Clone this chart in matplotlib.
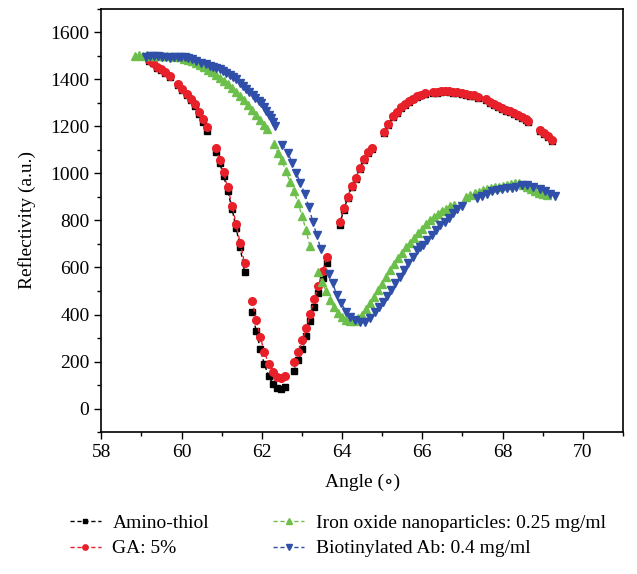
import matplotlib
matplotlib.use("Agg")
import matplotlib.pyplot as plt
import numpy as np

nan = np.nan

# Amino-thiol (black squares)
amino_angle = [
    59.20, 59.28, 59.40, 59.50, 59.60, 59.71, nan,
    59.92, 60.01, 60.13, 60.23, 60.33, 60.43, 60.53, 60.64, nan,
    60.85, 60.95, 61.05, 61.15, 61.26, 61.36, 61.46, 61.57, nan,
    61.76, 61.86, 61.96, 62.06, 62.17, 62.28, 62.39, 62.49, 62.59, nan,
    62.79, 62.91, 63.01, 63.11, 63.21, 63.30, 63.41, 63.52, 63.62, nan,
    63.94, 64.04, 64.14, 64.24, 64.34, 64.44, 64.54, 64.64, 64.75, nan,
    65.05, 65.15, 65.26, 65.36, 65.46, 65.56, 65.66, 65.76, 65.86, 65.96, 66.06, nan,
    66.27, 66.37, 66.47, 66.57, 66.67, 66.77, 66.87, 66.98, 67.08, 67.18, 67.28, 67.38, nan,
    67.59, 67.69, 67.79, 67.89, 67.99, 68.08, 68.18, 68.28, 68.38, 68.48, 68.58, 68.63, nan,
    68.92, 69.02, 69.12, 69.23,
]
amino_refl = [
    1478, 1468, 1448, 1438, 1425, 1410, nan,
    1376, 1354, 1332, 1310, 1285, 1252, 1220, 1182, nan,
    1092, 1043, 990, 925, 848, 768, 686, 582, nan,
    411, 329, 255, 191, 138, 105, 87, 82, 94, nan,
    159, 205, 255, 308, 371, 432, 492, 555, 617, nan,
    780, 845, 895, 942, 975, 1018, 1056, 1085, 1105, nan,
    1170, 1205, 1238, 1257, 1276, 1292, 1303, 1314, 1324, 1331, 1336, nan,
    1341, 1343, 1345, 1348, 1345, 1343, 1341, 1337, 1333, 1330, 1327, 1320, nan,
    1310, 1300, 1292, 1283, 1275, 1266, 1260, 1253, 1245, 1234, 1225, 1217, nan,
    1182, 1168, 1153, 1138,
]

# GA: 5% (red circles)
ga_angle = amino_angle
ga_refl = [
    1480, 1471, 1451, 1442, 1429, 1415, nan,
    1381, 1360, 1338, 1318, 1293, 1261, 1230, 1195, nan,
    1106, 1057, 1004, 940, 863, 784, 704, 620, nan,
    458, 378, 306, 243, 191, 155, 134, 131, 140, nan,
    199, 243, 290, 344, 404, 464, 522, 586, 643, nan,
    795, 852, 901, 947, 980, 1023, 1061, 1089, 1109, nan,
    1176, 1210, 1243, 1261, 1280, 1296, 1307, 1318, 1328, 1335, 1340, nan,
    1345, 1347, 1349, 1352, 1349, 1347, 1345, 1341, 1337, 1334, 1331, 1324, nan,
    1314, 1304, 1296, 1287, 1279, 1270, 1264, 1257, 1249, 1238, 1229, 1221, nan,
    1186, 1172, 1157, 1143,
]

# Iron oxide nanoparticles (green up triangles)
iron_angle = [
    58.85, 58.95, 59.05, 59.15, 59.25, 59.35, 59.45, 59.55, 59.65, 59.75, 59.85,
    59.95, 60.05, 60.15, 60.25, 60.35, 60.45, 60.55, 60.65, 60.75, 60.85, 60.95,
    61.05, 61.15, 61.25, 61.35, 61.45, 61.55, 61.65, 61.75, 61.85, 61.95, 62.05, 62.12, nan,
    62.30, 62.40, 62.50, 62.60, 62.70, 62.80, 62.90, 63.00, 63.10, 63.20, nan,
    63.40, 63.50, 63.60, 63.70, 63.80, 63.90, 64.00, 64.10, 64.20, 64.30, 64.40,
    64.50, 64.60, 64.70, 64.80, 64.90, 65.00, 65.10, 65.20, 65.30, 65.40, 65.50,
    65.60, 65.70, 65.80, 65.90, 66.00, 66.10, 66.20, 66.30, 66.40, 66.50, 66.60,
    66.70, 66.80, nan,
    67.10, 67.20, 67.30, 67.40, 67.50, 67.60, 67.70, 67.80, 67.90, 68.00, 68.10,
    68.20, 68.30, 68.40, 68.50, 68.60, 68.70, 68.80, 68.90, 69.00, 69.10,
]
iron_refl = [
    1498, 1502, 1500, 1503, 1500, 1498, 1500, 1499, 1497, 1498, 1496,
    1494, 1488, 1482, 1476, 1470, 1460, 1450, 1440, 1430, 1418, 1405,
    1392, 1378, 1362, 1346, 1328, 1310, 1290, 1270, 1250, 1228, 1205, 1190, nan,
    1125, 1085, 1055, 1010, 965, 925, 875, 820, 760, 690, nan,
    580, 540, 500, 460, 430, 405, 390, 378, 372, 372, 385,
    400, 425, 450, 475, 505, 530, 560, 590, 615, 640, 660,
    685, 705, 725, 745, 765, 785, 800, 815, 828, 840, 850,
    860, 866, nan,
    900, 909, 915, 921, 928, 935, 939, 942, 944, 947, 950,
    953, 957, 960, 952, 942, 934, 927, 918, 912, 907,
]

# Biotinylated Ab (blue down triangles)
ab_angle = [
    59.12, 59.22, 59.32, 59.41, 59.51, 59.61, 59.70, 59.80, 59.90, 59.99, 60.08,
    60.15, 60.25, 60.36, 60.48, 60.61, 60.70, 60.78, 60.87, 60.95, 61.03, 61.11,
    61.20, 61.28, 61.36, 61.45, 61.53, 61.61, 61.69, 61.77, 61.84, 61.92, 61.99,
    62.05, 62.11, 62.18, 62.24, 62.29, 62.34, nan,
    62.51, 62.65, 62.76, 62.86, 62.96, 63.07, 63.17, 63.27, 63.37, 63.47, nan,
    63.67, 63.77, 63.87, 63.98, 64.11, 64.21, 64.32, 64.44, 64.57, 64.69,
    64.81, 64.92, 65.02, 65.12, 65.23, 65.33, 65.44, 65.54, 65.65, 65.77, 65.87,
    65.95, 66.02, 66.12, 66.23, 66.35, 66.45, 66.56, 66.67, 66.77, 66.87, 66.98, nan,
    67.35, 67.48, 67.60, 67.73, 67.85, 67.98, 68.10, 68.23, 68.33, 68.48, 68.60,
    68.77, 68.92, 69.06, 69.18, 69.31,
]
ab_refl = [
    1495, 1497, 1499, 1499, 1496, 1494, 1492, 1494, 1495, 1496, 1494,
    1492, 1486, 1477, 1470, 1463, 1458, 1453, 1448, 1442, 1435, 1428,
    1420, 1411, 1400, 1386, 1371, 1358, 1345, 1333, 1321, 1309, 1297,
    1281, 1264, 1250, 1236, 1218, 1200, nan,
    1122, 1087, 1044, 1001, 959, 913, 859, 795, 736, 678, nan,
    572, 532, 482, 447, 411, 390, 375, 368, 370, 385,
    411, 432, 454, 478, 503, 532, 560, 589, 617, 646, 674,
    686, 695, 717, 738, 759, 781, 795, 809, 831, 848, 862, nan,
    895, 904, 913, 923, 930, 933, 937, 937, 942, 951, 951,
    944, 933, 923, 913, 904,
]

labels = [
    "Amino-thiol",
    "GA: 5%",
    "Iron oxide nanoparticles: 0.25 mg/ml",
    "Biotinylated Ab: 0.4 mg/ml",
]

plt.rcParams["font.family"] = ["Liberation Serif", "DejaVu Serif"]
plt.rcParams["font.size"] = 14

fig = plt.figure(figsize=(6.37, 5.74), dpi=100)
ax = fig.add_axes([0.159, 0.247, 0.819, 0.738])

dash = (0, (3, 2))
ax.plot(amino_angle, amino_refl, color="black", ls=dash, lw=1,
        marker="s", ms=5, label=labels[0])
ax.plot(ga_angle, ga_refl, color="#e8202a", ls=dash, lw=1,
        marker="o", ms=5.5, label=labels[1])
ax.plot(iron_angle, iron_refl, color="#6dbf4b", ls=dash, lw=1,
        marker="^", ms=6, label=labels[2])
ax.plot(ab_angle, ab_refl, color="#2f4fa8", ls=dash, lw=1,
        marker="v", ms=6, label=labels[3])

ax.set_xlim(58, 71)
ax.set_ylim(-100, 1700)
ax.set_xticks(np.arange(58, 71, 2))
ax.set_xticks(np.arange(58, 72, 1), minor=True)
ax.set_yticks(np.arange(0, 1601, 200))
ax.set_yticks(np.arange(-100, 1701, 100), minor=True)
ax.tick_params(which="major", direction="out", length=5, width=1, top=False, right=False)
ax.tick_params(which="minor", direction="out", length=3, width=1, top=False, right=False)
for s in ax.spines.values():
    s.set_linewidth(1.2)

ax.set_xlabel("Angle (∘)", labelpad=9)
ax.set_ylabel("Reflectivity (a.u.)", labelpad=10)

fig.legend(loc="upper left", bbox_to_anchor=(0.097, 0.118), ncol=2,
           frameon=False, handlelength=1.6, columnspacing=3.3,
           labelspacing=0.42, handletextpad=0.6, borderaxespad=0,
           markerscale=0.7)

fig.savefig("out.png", dpi=100)
